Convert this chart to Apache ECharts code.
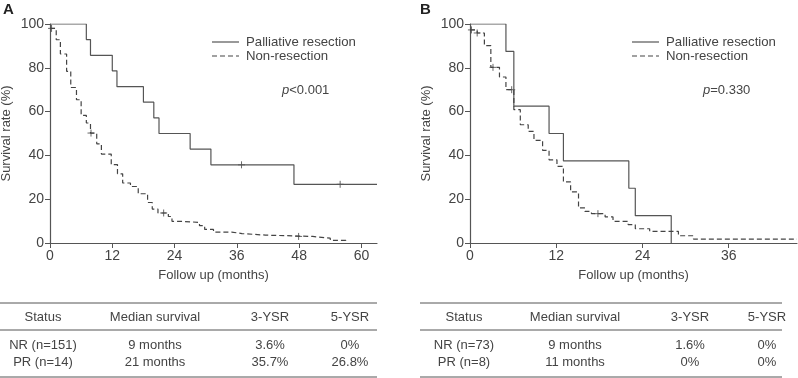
<!DOCTYPE html>
<html>
<head>
<meta charset="utf-8">
<script src="https://cdn.jsdelivr.net/npm/echarts@6/dist/echarts.min.js"></script>
<style>
  html, body { margin: 0; padding: 0; background: #fff; }
  #chart { width: 798px; height: 378px; }
</style>
</head>
<body>
<div id="chart"></div>
<script>
// 生存曲线数据 [月, 生存率%]
var prA = [[0,100],[7,92.9],[7.8,85.7],[12,78.6],[12.9,71.4],[18,64.3],[20,57.1],[21,50],[27,42.9],[31,35.7],[47,26.8],[63,26.8]];
var nrA = [[0,98],[1.2,92.8],[2,86.3],[3.2,78.4],[4,71],[5.1,65.4],[6,58.3],[7,54.8],[7.8,50.2],[9,45.3],[9.9,40.6],[11.8,35.8],[13,31.6],[14,27.4],[15.5,25.8],[17,22.5],[18.8,18.5],[19.7,15.5],[20.8,13.7],[22.8,12.1],[23.5,9.9],[25.3,9.4],[28.8,7.9],[29.8,6.2],[31.5,5.0],[35,4.3],[37,3.6],[41.5,3.0],[50.6,2.2],[54,1.2],[57,0]];
var censorPrA = [[36.9,35.7],[55.9,26.8]];
var censorNrA = [[0.3,98],[7.9,50.2],[21.9,13.7],[47.9,3.0]];

var prB = [[0,100],[5,87.5],[6.1,62.5],[11,50],[13,37.5],[22.1,25],[23,12.5],[28,0]];
var nrB = [[0,97.3],[1,95.9],[2,90.1],[2.9,80.2],[4.1,75.8],[5,70],[6.1,60.9],[7,54],[8.1,51],[8.9,46.9],[10.1,42.3],[11,38],[12.1,35],[13,27.9],[14,23.3],[15.1,16],[16,14.4],[16.9,13.4],[18.8,11.9],[19.9,9.9],[22,8.4],[23,6.5],[25,5.3],[29,3.3],[31.1,1.8],[45.5,1.8]];
var censorPrB = [];
var censorNrB = [[0.2,97.3],[1,95.9],[3.2,80.2],[5.8,70],[17.8,13.4]];

var seriesNames = ['Palliative resection', 'Non-resection'];
var pValues = ['<0.001', '=0.330'];

// 表格
var tableHeader = ['Status', 'Median survival', '3-YSR', '5-YSR'];
var tableA = [['NR (n=151)', '9 months', '3.6%', '0%'], ['PR (n=14)', '21 months', '35.7%', '26.8%']];
var tableB = [['NR (n=73)', '9 months', '1.6%', '0%'], ['PR (n=8)', '11 months', '0%', '0%']];

var FONT = 'Liberation Sans, Arial, sans-serif';
var TXT = '#444';
var AX = '#555';
var DASH = [5, 3];

var myChart = echarts.init(document.getElementById('chart'));

function xAxisOf(idx, max) {
    return {
        type: 'value', gridIndex: idx, min: 0, max: max, interval: 12,
        name: 'Follow up (months)', nameLocation: 'middle', nameGap: 26,
        nameTextStyle: { color: TXT, fontSize: 13, fontFamily: FONT },
        splitLine: { show: false },
        axisLine: { lineStyle: { color: AX, width: 1.2 } },
        axisTick: { length: 5, lineStyle: { color: AX } },
        axisLabel: { color: TXT, fontSize: 14, fontFamily: FONT, margin: 6, showMaxLabel: false }
    };
}
function yAxisOf(idx) {
    return {
        type: 'value', gridIndex: idx, min: 0, max: 100, interval: 20,
        name: 'Survival rate (%)', nameLocation: 'middle', nameGap: 37,
        nameTextStyle: { color: TXT, fontSize: 13, fontFamily: FONT },
        splitLine: { show: false },
        axisLine: { show: true, lineStyle: { color: AX, width: 1.2 } },
        axisTick: { show: true, length: 5, lineStyle: { color: AX } },
        axisLabel: { color: TXT, fontSize: 14, fontFamily: FONT, margin: 6 }
    };
}
function curve(name, data, idx, dashed) {
    return {
        name: name, type: 'line', step: 'end', xAxisIndex: idx, yAxisIndex: idx,
        data: data, symbol: 'none', animation: false,
        lineStyle: { color: dashed ? '#444' : '#555', width: 1.2, type: dashed ? DASH : 'solid' }
    };
}
function censor(data, idx) {
    return {
        name: 'censor', type: 'scatter', xAxisIndex: idx, yAxisIndex: idx, data: data,
        symbol: 'path://M5,0L5,10M0,5L10,5', symbolSize: 7, animation: false,
        itemStyle: { color: 'none', borderColor: '#444', borderWidth: 1 }
    };
}
// 图例用 graphic 画（线段 + 文字）
function legendGraphics(x) {
    var g = [];
    seriesNames.forEach(function (n, i) {
        var y = 42 + i * 14;
        g.push({ type: 'line', shape: { x1: x, y1: y, x2: x + 27, y2: y },
                 style: { stroke: i ? '#444' : '#555', lineWidth: 1.2, lineDash: i ? DASH : null } });
        g.push({ type: 'text', x: x + 34, y: y, style: { text: n, fill: TXT, font: '13.2px ' + FONT, verticalAlign: 'middle' } });
    });
    return g;
}
function tableGraphics(rows, cols, x0, x1) {
    var g = [];
    [303, 330, 377].forEach(function (y) {
        g.push({ type: 'line', shape: { x1: x0, y1: y, x2: x1, y2: y }, style: { stroke: '#555', lineWidth: 1 } });
    });
    tableHeader.forEach(function (t, i) {
        g.push({ type: 'text', x: cols[i], y: 317, style: { text: t, fill: TXT, font: '13px ' + FONT, align: 'center', verticalAlign: 'middle' } });
    });
    rows.forEach(function (r, j) {
        r.forEach(function (t, i) {
            g.push({ type: 'text', x: cols[i], y: 345 + j * 17, style: { text: t, fill: TXT, font: '13px ' + FONT, align: 'center', verticalAlign: 'middle' } });
        });
    });
    return g;
}
function pText(x, v) {
    return {
        type: 'text', x: x, y: 90,
        style: {
            text: '{i|p}' + v, fill: TXT, font: '13px ' + FONT, verticalAlign: 'middle',
            rich: { i: { fontStyle: 'italic', fontSize: 13, fontFamily: FONT, fill: TXT } }
        }
    };
}

option = {
    backgroundColor: '#fff',
    animation: false,
    grid: [
        { left: 50, top: 24, width: 327, height: 219, outerBoundsMode: 'none' },
        { left: 470, top: 24, width: 327, height: 219, outerBoundsMode: 'none' }
    ],
    xAxis: [xAxisOf(0, 63), xAxisOf(1, 45.5)],
    yAxis: [yAxisOf(0), yAxisOf(1)],
    series: [
        curve(seriesNames[0], prA, 0, false),
        curve(seriesNames[1], nrA, 0, true),
        censor(censorPrA, 0),
        censor(censorNrA, 0),
        curve(seriesNames[0], prB, 1, false),
        curve(seriesNames[1], nrB, 1, true),
        censor(censorPrB, 1),
        censor(censorNrB, 1)
    ],
    graphic: [
        { type: 'text', x: 3, y: 2, style: { text: 'A', fill: '#222', font: 'bold 15px ' + FONT } },
        { type: 'text', x: 420, y: 2, style: { text: 'B', fill: '#222', font: 'bold 15px ' + FONT } },
        pText(282, pValues[0]),
        pText(703, pValues[1])
    ].concat(legendGraphics(212))
     .concat(legendGraphics(632))
     .concat(tableGraphics(tableA, [43, 155, 270, 350], 0, 377))
     .concat(tableGraphics(tableB, [464, 575, 690, 767], 420, 782))
};

myChart.setOption(option);
window.addEventListener('resize', function () {
    myChart.resize();
});
</script>
</body>
</html>
